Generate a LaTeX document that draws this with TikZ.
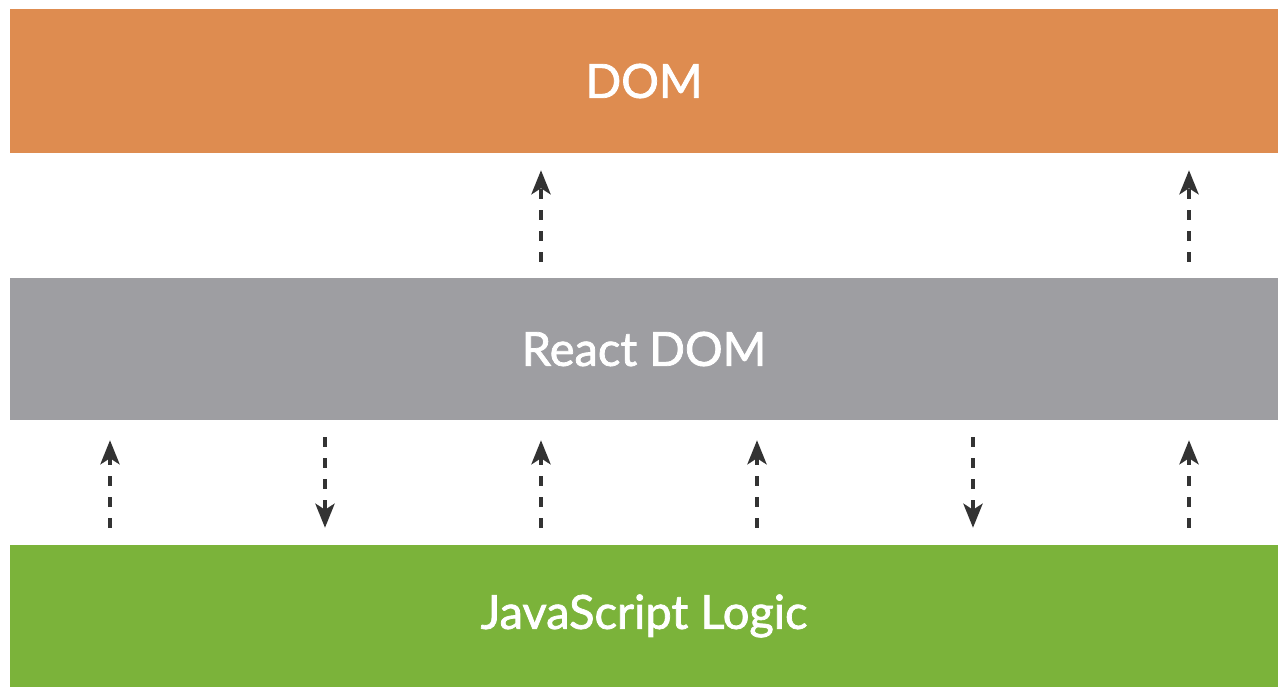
\documentclass[tikz,border=0pt]{standalone}
\usepackage{fontspec}
\setmainfont{Lato}
\newfontfamily\layerfont[FakeBold=1.6]{Lato}
\usetikzlibrary{arrows.meta}
\definecolor{domorange}{HTML}{DE8C50}
\definecolor{reactgray}{HTML}{9E9EA2}
\definecolor{jsgreen}{HTML}{7BB33A}
\definecolor{arrowgray}{HTML}{333333}
\tikzset{
  band/.style={fill=#1, draw=none, minimum width=1268pt, inner sep=0pt,
               text=white, font=\layerfont\fontsize{47}{52}\selectfont},
  flow/.style={draw=arrowgray, line width=4.5pt, dash pattern=on 10pt off 11pt,
               -{Stealth[length=24pt, width=19pt, inset=6pt]}},
}
\begin{document}
\begin{tikzpicture}[x=1pt, y=-1pt]
  \useasboundingbox (0,0) rectangle (1278,687);
  % three layers
  \node[band=domorange, minimum height=144pt] (dom) at (644,81) {DOM};
  \node[band=reactgray, minimum height=142pt] (react) at (644,349) {React DOM};
  \node[band=jsgreen, minimum height=142pt] (js) at (644,616) {JavaScript Logic};
  % arrow columns
  \foreach \i/\x in {1/110, 2/325, 3/541, 4/757, 5/973, 6/1189}
    \coordinate (c\i) at (\x,0);
  % React DOM -> DOM
  \foreach \i in {3,6}
    \draw[flow, shorten <=16pt, shorten >=17pt] (react.north -| c\i) -- (dom.south -| c\i);
  % JavaScript Logic -> React DOM
  \foreach \i in {1,3,4,6}
    \draw[flow, shorten <=17pt, shorten >=20pt] (js.north -| c\i) -- (react.south -| c\i);
  % React DOM -> JavaScript Logic
  \foreach \i in {2,5}
    \draw[flow, shorten <=17pt, shorten >=17pt] (react.south -| c\i) -- (js.north -| c\i);
\end{tikzpicture}
\end{document}
